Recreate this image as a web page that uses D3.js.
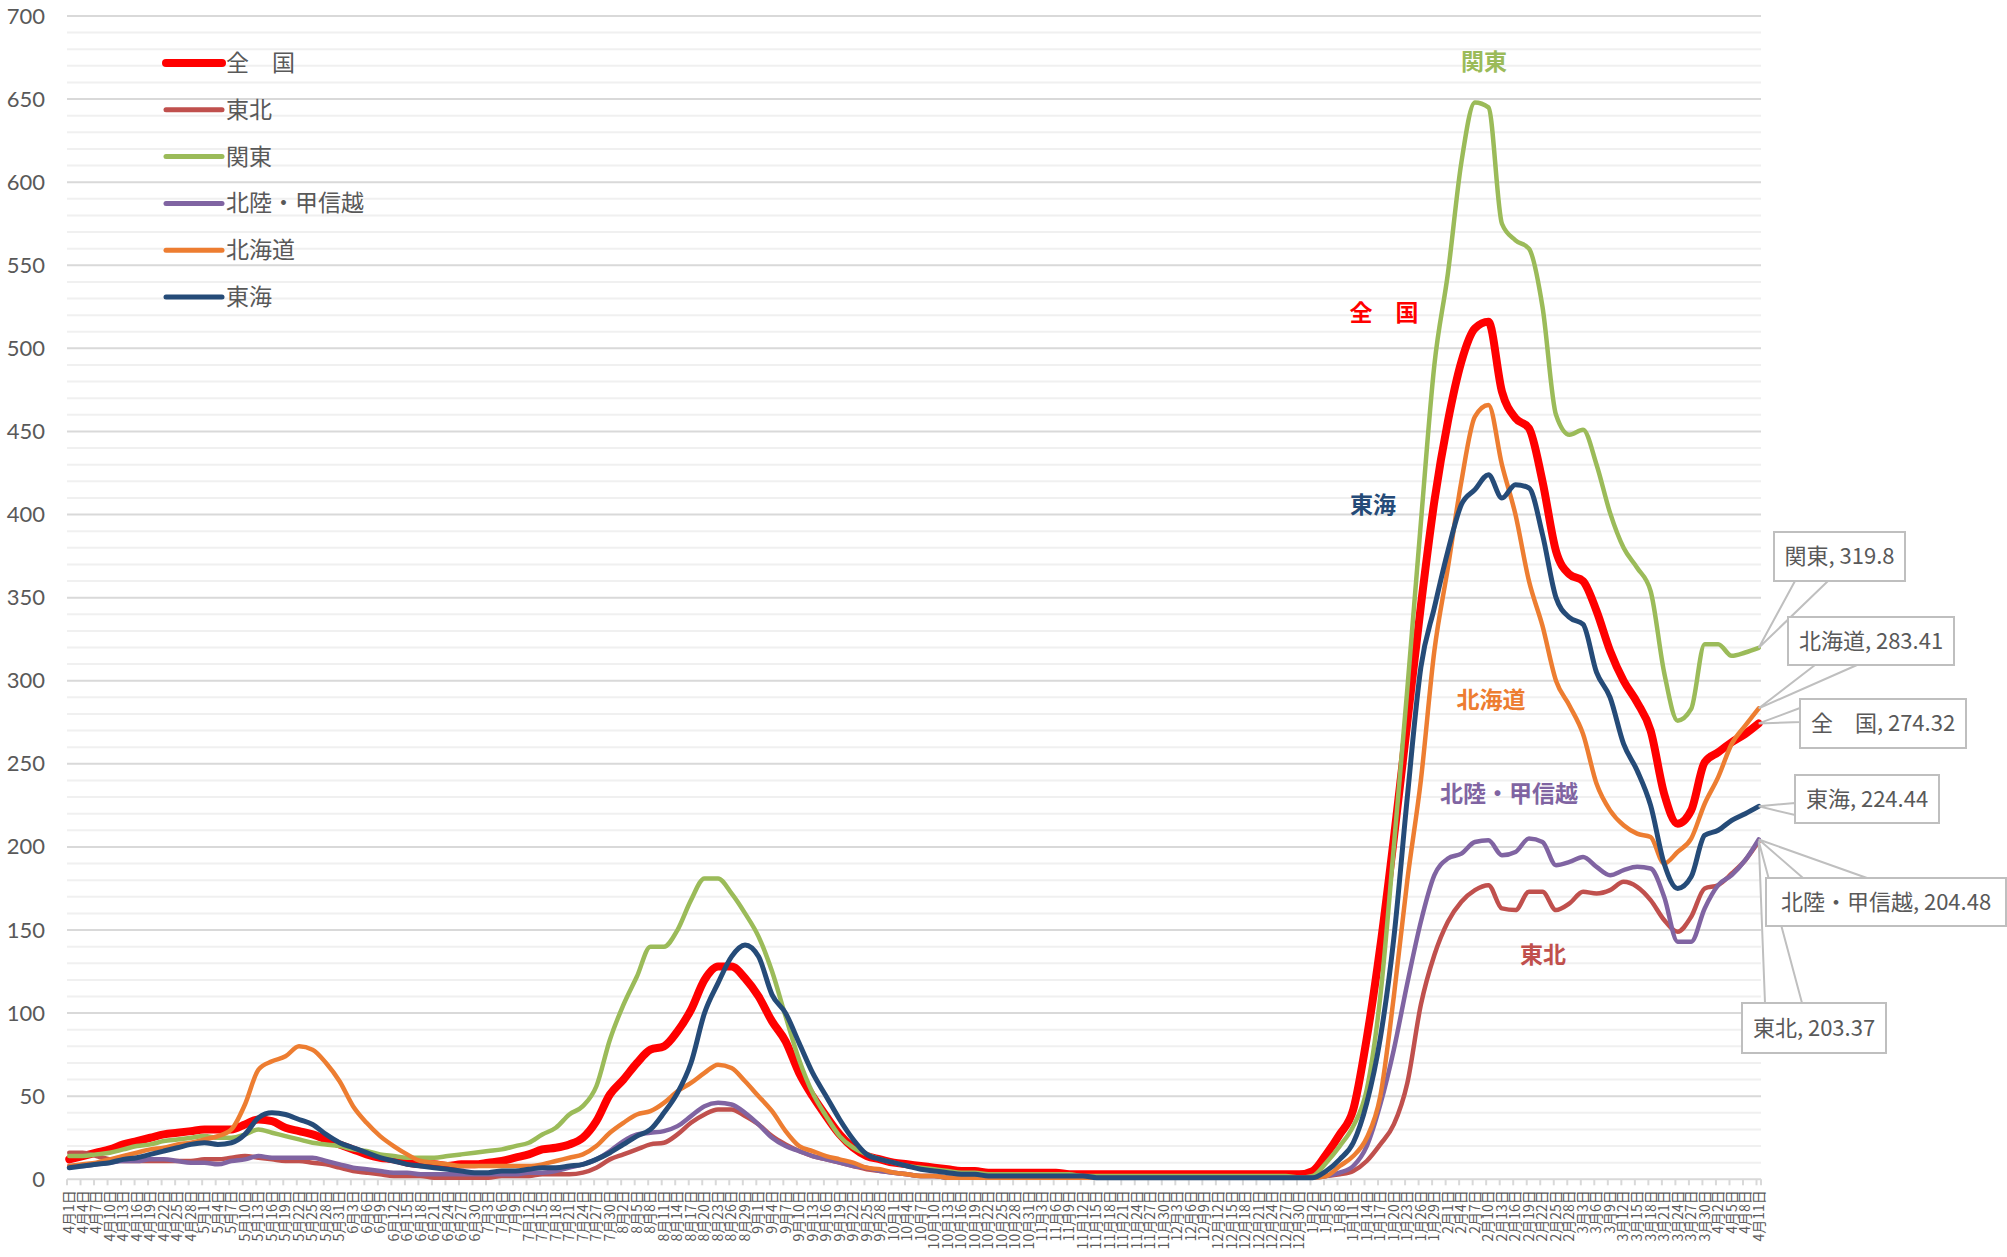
<!DOCTYPE html>
<html>
<head>
<meta charset="utf-8">
<script src="https://cdn.jsdelivr.net/npm/d3@7"></script>
<style>
	body { margin: 0; background: #fff; }
	svg text { font-family: "Noto Sans CJK JP", "Noto Sans", sans-serif; }
</style>
</head>
<body>
<svg id="chart" width="2007" height="1257"></svg>
<script>
// categories: one per day, 2020/4/1 - 2021/4/11
var startDay = new Date(2020, 3, 1);
var endDay = new Date(2021, 3, 11);
var days = d3.timeDay.range(startDay, d3.timeDay.offset(endDay, 1));
// labelled days (every 3rd), the series below are read at these days
var tickDays = days.filter(function(d, i){ return i % 3 === 0; });
var yTicks = d3.range(0, 701, 50);

var seriesNames = ['全　国', '東北', '関東', '北陸・甲信越', '北海道', '東海'];

var zenkoku = [12,14,16,18,21,23,25,27,28,29,30,30,30,33,36,35,31,29,27,24,21,18,15,13,12,10,9,9,8,9,9,10,11,13,15,18,
	19,21,25,35,51,60,70,78,80,89,102,120,128,128,121,110,95,83,64,50,38,27,19,14,12,10,9,8,7,6,5,5,4,4,4,
	4,4,4,3,3,3,3,3,3,3,3,3,3,3,3,3,3,3,3,3,
	3,5,15,27,42,85,140,205,275,345,408,456,492,512,516,474,458,452,420,378,364,360,342,318,300,287,270,232,214,222,251,257,263,268,274.32];

var tohoku = [16,16,14,12,11,11,11,11,11,11,12,12,13,14,13,12,11,11,10,9,7,5,4,3,2,2,2,1,1,1,1,1,2,2,2,3,
	3,3,4,7,12,15,18,21,22,27,34,39,42,42,38,33,26,21,17,14,12,10,8,6,5,4,3,2,2,1,1,1,1,1,1,
	1,1,1,1,1,1,1,1,1,1,1,1,1,1,1,1,1,1,1,1,
	1,1,2,3,5,11,21,33,58,105,135,155,167,174,177,163,162,173,173,162,166,173,172,174,179,176,168,156,149,158,175,177,184,192,203.37];

var kanto = [14,14,15,16,18,20,21,23,24,25,26,25,25,27,30,28,26,24,22,21,20,18,17,15,14,13,13,13,14,15,16,17,18,20,22,27,
	31,39,44,56,84,105,122,140,140,150,168,181,181,172,160,146,125,98,72,52,38,26,19,15,12,10,8,7,6,5,4,4,3,3,3,
	3,3,3,3,2,2,2,2,2,2,2,2,2,2,2,2,2,2,2,2,
	1,2,10,20,32,54,110,200,295,395,490,545,612,648,645,575,565,560,525,460,448,451,430,401,380,368,354,305,276,283,322,322,315,317,319.8];

var hokuriku = [8,8,9,10,11,11,12,12,11,10,10,9,11,12,14,13,13,13,13,11,9,7,6,5,4,4,3,3,3,3,3,3,3,3,4,4,
	5,7,9,12,17,23,27,28,29,32,38,44,46,45,40,33,25,20,17,14,12,10,8,7,5,4,3,2,2,1,1,1,1,1,1,
	1,1,1,1,1,1,1,1,1,1,1,1,1,1,1,1,1,1,1,1,
	1,1,2,4,8,20,45,78,118,155,183,193,196,203,204,195,197,205,203,189,191,194,188,183,186,188,187,170,143,143,163,177,183,192,204.48];

var hokkaido = [8,9,10,12,14,16,18,19,21,22,24,26,30,45,66,71,74,80,78,70,59,44,34,26,20,15,11,10,9,8,8,8,8,8,8,9,
	11,13,15,20,28,34,39,41,46,53,58,64,69,67,59,50,41,29,20,17,14,12,10,7,6,4,3,2,2,1,1,1,1,1,1,
	1,1,1,1,1,1,1,1,1,1,1,1,1,1,1,1,1,1,1,1,
	1,1,2,8,14,25,50,110,180,240,318,368,420,459,466,430,400,360,333,300,285,268,238,222,213,208,206,190,197,205,226,242,262,273,283.41];

var tokai = [7,8,9,10,12,13,15,17,19,21,22,21,22,27,37,40,39,36,33,27,22,19,16,13,11,9,8,7,6,5,4,4,5,5,6,7,
	7,8,9,12,16,21,26,30,40,52,70,100,118,134,141,134,111,100,82,64,50,36,24,15,12,10,8,6,5,4,3,3,2,2,2,
	2,2,2,2,2,1,1,1,1,1,1,1,1,1,1,1,1,1,1,1,
	1,1,5,12,22,46,85,145,230,308,344,378,406,415,424,410,418,416,388,350,338,334,305,290,262,246,225,190,175,182,207,210,216,220,224.44];

var seriesValues = [zenkoku, tohoku, kanto, hokuriku, hokkaido, tokai];

// styles, same order as seriesNames
var seriesColors = ['#FF0000', '#C0504D', '#9BBB59', '#8064A2', '#ED7D31', '#254B78'];
var seriesWidths = [8, 4.5, 4.5, 4.5, 4.5, 5];


function LineChartView(){

}

LineChartView.prototype.render = function(options){
	this.options = options;
	this.svg = d3.select('#chart');
	this.svg.append('rect').attr('width', 2007).attr('height', 1257).attr('fill', '#fff');

	this.x = d3.scaleBand().domain(days).range([options.left, options.right]);
	this.y = d3.scaleLinear().domain([0, 700]).range([options.bottom, options.top]);

	this.addGrid();
	this.addYAxis();
	this.addXAxis();
	this.addLines();
	this.addLegend();
	this.addInlineLabels();
	this.addCallouts();
}

LineChartView.prototype.cx = function(d){
	return this.x(d) + this.x.bandwidth() / 2;
}

LineChartView.prototype.addGrid = function(){
	var y = this.y, o = this.options;
	var g = this.svg.append('g').attr('class', 'grid');
	// minor lines every 10, major every 50
	g.selectAll('line')
	 .data(d3.range(0, 701, 10))
	 .enter().append('line')
	 .attr('x1', o.left)
	 .attr('x2', o.right)
	 .attr('y1', function(d){ return y(d); })
	 .attr('y2', function(d){ return y(d); })
	 .attr('stroke', function(d){ return d % 50 === 0 ? '#D9D9D9' : '#F0F0F0'; })
	 .attr('stroke-width', 2);
}

LineChartView.prototype.addYAxis = function(){
	var axis = d3.axisLeft(this.y).tickValues(yTicks).tickSize(0).tickPadding(22);
	var g = this.svg.append('g')
			.attr('transform', 'translate(' + this.options.left + ',0)')
			.call(axis);
	g.select('.domain').remove();
	g.selectAll('text')
	 .attr('fill', '#595959')
	 .style('font-family', 'Lato, "Noto Sans", sans-serif')
	 .style('font-size', '22px');
}

LineChartView.prototype.addXAxis = function(){
	var o = this.options, x = this.x;
	var fmt = d3.timeFormat('%-m月%-d日');
	var axis = d3.axisBottom(x).tickValues(tickDays).tickFormat(fmt).tickSize(0);
	var g = this.svg.append('g')
			.attr('transform', 'translate(0,' + o.bottom + ')')
			.call(axis);
	g.select('.domain').remove();
	g.selectAll('text')
	 .attr('y', 0)
	 .attr('x', -11)
	 .attr('dy', '0.35em')
	 .attr('transform', 'rotate(-90)')
	 .style('text-anchor', 'end')
	 .style('font-size', '14px')
	 .attr('fill', '#595959');

	// tick marks between every third category
	var marks = tickDays.map(function(d){ return x(d); }).concat([o.right]);
	this.svg.append('g').selectAll('line')
		.data(marks)
		.enter().append('line')
		.attr('x1', function(d){ return d; })
		.attr('x2', function(d){ return d; })
		.attr('y1', o.bottom)
		.attr('y2', o.bottom + 6)
		.attr('stroke', '#D9D9D9')
		.attr('stroke-width', 2);
}

LineChartView.prototype.addLines = function(){
	var self = this;
	var line = d3.line()
				 .curve(d3.curveMonotoneX)
				 .x(function(d){ return self.cx(d.day); })
				 .y(function(d){ return self.y(d.v); });
	var g = this.svg.append('g').attr('class', 'lines');
	seriesValues.forEach(function(vals, i){
		var pts = vals.map(function(v, k){ return {day : tickDays[k], v : v}; });
		g.append('path')
		 .attr('d', line(pts))
		 .attr('fill', 'none')
		 .attr('stroke', seriesColors[i])
		 .attr('stroke-width', seriesWidths[i])
		 .attr('stroke-linejoin', 'round')
		 .attr('stroke-linecap', 'round');
	});
}

LineChartView.prototype.addLegend = function(){
	var g = this.svg.append('g').attr('class', 'legend');
	seriesNames.forEach(function(name, i){
		var yy = 63 + i * 46.8;
		g.append('line')
		 .attr('x1', 166).attr('x2', 222)
		 .attr('y1', yy).attr('y2', yy)
		 .attr('stroke', seriesColors[i])
		 .attr('stroke-width', i === 0 ? 8 : 5)
		 .attr('stroke-linecap', 'round');
		g.append('text')
		 .attr('x', 226).attr('y', yy)
		 .attr('dy', '0.35em')
		 .attr('fill', '#595959')
		 .style('font-size', '23px')
		 .text(name);
	});
}

LineChartView.prototype.addInlineLabels = function(){
	// label centres next to each curve
	var spots = [[1384, 313], [1543, 955], [1484, 62], [1509, 794], [1491, 700], [1373, 505]];
	var g = this.svg.append('g').attr('class', 'inline-labels');
	seriesNames.forEach(function(name, i){
		g.append('text')
		 .attr('x', spots[i][0]).attr('y', spots[i][1])
		 .attr('dy', '0.35em')
		 .attr('text-anchor', 'middle')
		 .attr('fill', seriesColors[i])
		 .style('font-size', '23px')
		 .style('font-weight', 'bold')
		 .text(name);
	});
}

LineChartView.prototype.addCallouts = function(){
	var self = this;
	var lastDay = days[days.length - 1];
	// box [x, y, w, h] and the two base points of the wedge, per series
	var layout = {
		'東北' : {box : [1742, 1003, 144, 50], base : [[1765, 1003], [1802, 1003]]},
		'関東' : {box : [1774, 532, 131, 49], base : [[1795, 581], [1828, 581]]},
		'北海道' : {box : [1788, 617, 166, 48], base : [[1815, 665], [1857, 665]]},
		'全　国' : {box : [1800, 699, 166, 49], base : [[1800, 708], [1800, 722]]},
		'東海' : {box : [1795, 775, 144, 48], base : [[1795, 803], [1795, 815]]},
		'北陸・甲信越' : {box : [1766, 878, 240, 48], base : [[1803, 878], [1867, 878]]}
	};
	var order = ['東北', '関東', '北海道', '全　国', '東海', '北陸・甲信越'];
	var g = this.svg.append('g').attr('class', 'callouts');
	order.forEach(function(name){
		var i = seriesNames.indexOf(name);
		var vals = seriesValues[i];
		var v = vals[vals.length - 1];
		var px = self.cx(lastDay), py = self.y(v);
		var L = layout[name];
		var c = g.append('g');
		c.append('path')
		 .attr('d', 'M' + L.base[0][0] + ',' + L.base[0][1] + 'L' + px + ',' + py + 'L' + L.base[1][0] + ',' + L.base[1][1] + 'Z')
		 .attr('fill', '#fff')
		 .attr('stroke', '#BFBFBF')
		 .attr('stroke-width', 2);
		c.append('rect')
		 .attr('x', L.box[0]).attr('y', L.box[1])
		 .attr('width', L.box[2]).attr('height', L.box[3])
		 .attr('fill', '#fff')
		 .attr('stroke', '#BFBFBF')
		 .attr('stroke-width', 2);
		c.append('text')
		 .attr('x', L.box[0] + L.box[2] / 2)
		 .attr('y', L.box[1] + L.box[3] / 2)
		 .attr('dy', '0.35em')
		 .attr('text-anchor', 'middle')
		 .attr('fill', '#595959')
		 .style('font-size', '22px')
		 .text(name + ', ' + v);
	});
}

new LineChartView().render({left : 67, right : 1761, top : 16, bottom : 1179.3});
</script>
</body>
</html>
